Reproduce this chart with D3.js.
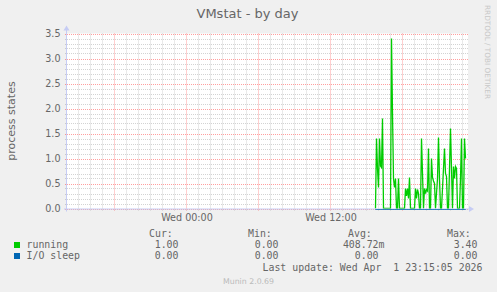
<!DOCTYPE html>
<html><head><meta charset="utf-8">
<script src="https://cdn.jsdelivr.net/npm/d3@7"></script>
<style>body{margin:0;background:#f0f0f0;overflow:hidden} svg{display:block}</style>
</head><body><svg id="c" width="497" height="292"></svg>
<script>
const title = "VMstat - by day";
const yLabel = "process states";
const sideText = "RRDTOOL / TOBI OETIKER";
const footer = "Munin 2.0.69";
const lastUpdate = "Last update: Wed Apr  1 23:15:05 2026";
const yTicks = [0, 0.5, 1, 1.5, 2, 2.5, 3, 3.5];
const xTickLabels = ["Wed 00:00", "Wed 12:00"];
const xTickTimes = ["2026-04-01T00:00:00Z", "2026-04-01T12:00:00Z"];
const timeDomain = ["2026-03-31T14:05:00Z", "2026-04-01T23:25:00Z"];
const dataStart = "2026-04-01T15:45:00Z";
const stepMinutes = 5;
const seriesNames = ["running", "I/O sleep"];
const seriesColors = ["#00cc00", "#0066b3"];
const running = [0,1.4,0.8,0.42,1.4,0.85,0.82,1.8,0,0,0,0,0,0,0,0,3.4,1.9,0.6,0.42,0.6,0,0,0.6,0,0,0,0,0,0,
  0.4,0.25,0.4,0.2,0.62,0,0,0,0,0,0.4,0.2,0.38,0.3,0,0,1.4,0.7,0,0.4,0.3,0.38,0.35,1.2,0,0,1.0,0.62,0.55,0.5,
  0,0.3,0.6,1.42,0.6,0,0,0.4,0.8,1.2,0.7,0.64,0,0,0.8,1.6,0.8,0,0.84,0.6,0.84,0.8,0,0,0,0.6,1.4,0,0,1.4,1.0];
const ioSleep = running.map(() => 0);
const legendHeaders = ["Cur:", "Min:", "Avg:", "Max:"];
const legendCur = ["1.00", "0.00"];
const legendMin = ["0.00", "0.00"];
const legendAvg = ["408.72m", "0.00"];
const legendMax = ["3.40", "0.00"];

const svg = d3.select("#c");
const X0 = 67, X1 = 467, Y0 = 208.5, Y1 = 33.5;
const x = d3.scaleUtc().domain(timeDomain.map(d => new Date(d))).range([X0, X1]);
const y = d3.scaleLinear().domain([0, 3.5]).range([Y0, Y1]);
const t0 = new Date(dataStart).getTime();
const times = running.map((_, i) => new Date(t0 + i * stepMinutes * 60000));

svg.append("rect").attr("x", X0).attr("y", Y1).attr("width", X1 - X0 + 1).attr("height", Y0 - Y1 + 0.5).attr("fill", "#fff");

const gridC = "rgba(128,128,128,0.35)", mgridC = "rgba(255,0,0,0.38)";
const g = svg.append("g");
const minorY = d3.range(0, 36).map(i => i / 10).filter(v => Math.round(v * 10) % 5 !== 0);
minorY.forEach(v => {
  const yy = Math.round(y(v)) + 0.5;
  g.append("line").attr("x1", X0 - 2).attr("x2", X1 + 2).attr("y1", yy).attr("y2", yy)
   .attr("stroke", gridC).attr("stroke-dasharray", "1,1");
});
x.ticks(d3.utcHour.every(1)).forEach(t => {
  if (t.getUTCHours() % 6 === 0) return;
  const xx = Math.round(x(t)) + 0.5;
  g.append("line").attr("x1", xx).attr("x2", xx).attr("y1", Y1).attr("y2", Y0 + 2.5)
   .attr("stroke", gridC).attr("stroke-dasharray", "1,1");
});
yTicks.forEach(v => {
  const yy = Math.round(y(v)) + 0.5;
  g.append("line").attr("x1", X0 - 2).attr("x2", X1 + 2).attr("y1", yy).attr("y2", yy)
   .attr("stroke", mgridC).attr("stroke-dasharray", "1,1");
});
x.ticks(d3.utcHour.every(6)).forEach(t => {
  const xx = Math.round(x(t)) + 0.5;
  g.append("line").attr("x1", xx).attr("x2", xx).attr("y1", Y1).attr("y2", Y0 + 3)
   .attr("stroke", mgridC).attr("stroke-dasharray", "1,1");
});

const fontC = "#666";
yTicks.forEach(v => {
  svg.append("text").attr("x", 60.5).attr("y", y(v) + 3.5).attr("text-anchor", "end")
    .attr("font-family", "DejaVu Sans").attr("font-size", 9.6).attr("fill", fontC).text(v.toFixed(1));
});
xTickLabels.forEach((l, i) => {
  svg.append("text").attr("x", x(new Date(xTickTimes[i])) + 1).attr("y", 221).attr("text-anchor", "middle")
    .attr("font-family", "DejaVu Sans").attr("font-size", 9.6).attr("fill", fontC).text(l);
});

const line = d3.line().x((d, i) => Math.round(x(times[i])) + 0.5).y(d => y(d));
svg.append("path").datum(running).attr("d", line).attr("fill", "none")
  .attr("stroke", seriesColors[0]).attr("stroke-width", 1.3);

const axC = "#c6ccf4";
svg.append("line").attr("x1", X0 - 0.5).attr("x2", X0 - 0.5).attr("y1", Y0 + 3).attr("y2", Y1 - 4).attr("stroke", axC);
svg.append("line").attr("x1", X0 - 3).attr("x2", X1 + 3).attr("y1", Y0 + 0.5).attr("y2", Y0 + 0.5).attr("stroke", axC);
svg.append("path").attr("d", `M${X0 - 3.5},${Y1 - 3} L${X0 + 2.5},${Y1 - 3} L${X0 - 0.5},${Y1 - 8} Z`).attr("fill", axC);
svg.append("path").attr("d", `M${X1 + 2},${Y0 - 2.5} L${X1 + 2},${Y0 + 3.5} L${X1 + 7},${Y0 + 0.5} Z`).attr("fill", axC);

const line2 = d3.line().x((d, i) => Math.round(x(times[i])) + 0.5).y(d => Math.round(y(d)) + 0.5);
svg.append("path").datum(ioSleep).attr("d", line2).attr("fill", "none")
  .attr("stroke", seriesColors[1]).attr("stroke-width", 1);

svg.append("text").attr("x", 247.5).attr("y", 17.5).attr("text-anchor", "middle")
  .attr("font-family", "DejaVu Sans").attr("font-size", 13).attr("fill", fontC).text(title);
svg.append("text").attr("transform", "translate(15,121) rotate(-90)").attr("text-anchor", "middle")
  .attr("font-family", "DejaVu Sans").attr("font-size", 11).attr("fill", fontC).text(yLabel);
svg.append("text").attr("transform", "translate(484.5,5) rotate(90)").attr("text-anchor", "start")
  .attr("font-family", "DejaVu Sans").attr("font-size", 7.3).attr("fill", "#c8c8c8").text(sideText);

const mono = "DejaVu Sans Mono", lfs = 9.9;
const hdrX = [149, 248, 348, 447];
legendHeaders.forEach((h, i) => svg.append("text").attr("x", hdrX[i]).attr("y", 237)
  .attr("font-family", mono).attr("font-size", lfs).attr("fill", fontC).text(h));
const rowsY = [247.5, 258.5];
const colEnds = [178.5, 278.5, 384.5, 477.5];
const cols = [legendCur, legendMin, legendAvg, legendMax];
seriesNames.forEach((n, r) => {
  svg.append("rect").attr("x", 14).attr("y", rowsY[r] - 5.5).attr("width", 6).attr("height", 6).attr("fill", seriesColors[r]);
  svg.append("text").attr("x", 26.5).attr("y", rowsY[r]).attr("font-family", mono).attr("font-size", lfs)
    .attr("fill", fontC).text(n);
  cols.forEach((c, ci) => {
    const v = c[r];
    const pad = (ci === 2 && !/[a-z]$/.test(v)) ? " " : "";
    svg.append("text").attr("x", colEnds[ci]).attr("y", rowsY[r]).attr("text-anchor", "end")
      .attr("font-family", mono).attr("font-size", lfs).attr("fill", fontC)
      .style("white-space", "pre").text(v + pad);
  });
});
svg.append("text").attr("x", 482.5).attr("y", 270.5).attr("text-anchor", "end")
  .attr("font-family", mono).attr("font-size", lfs).attr("fill", fontC).style("white-space", "pre").text(lastUpdate);
svg.append("text").attr("x", 248.5).attr("y", 284).attr("text-anchor", "middle")
  .attr("font-family", "DejaVu Sans").attr("font-size", 7.8).attr("fill", "#bbb").text(footer);
</script></body></html>
